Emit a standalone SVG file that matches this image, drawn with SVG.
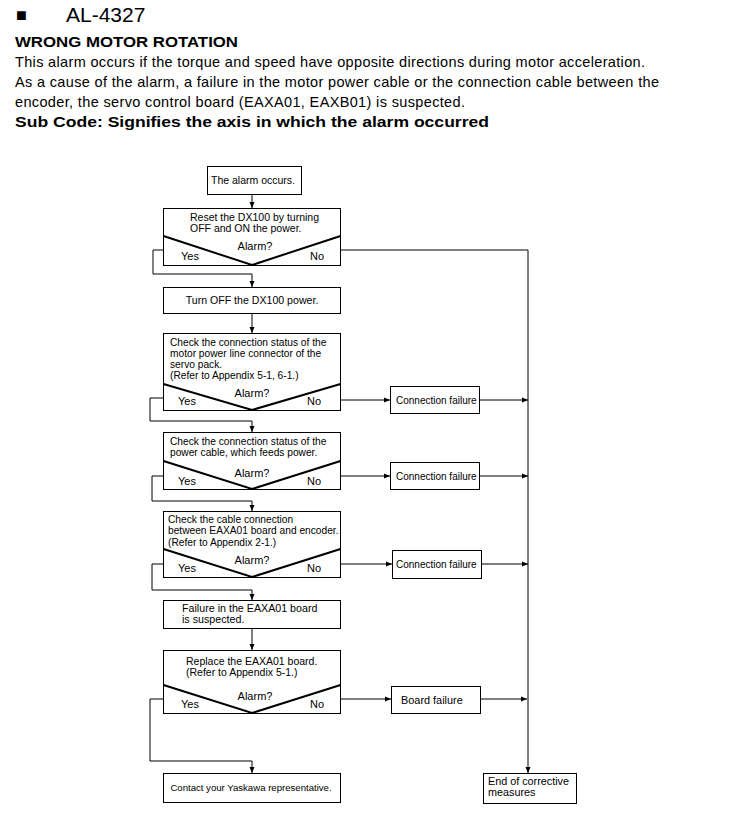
<svg xmlns="http://www.w3.org/2000/svg" width="731" height="835" viewBox="0 0 731 835">
<style>
text{font-family:"Liberation Sans",Arial,sans-serif;fill:#000}
.h{font-size:14.5px}
.b{font-weight:bold;font-size:15px}
.t{font-size:10.5px}
.s{font-size:10.2px}
.box{fill:#fff;stroke:#000;stroke-width:1}
.v{fill:none;stroke:#000;stroke-width:2}
.c{fill:none;stroke:#000;stroke-width:1}
.a{marker-end:url(#ah)}
</style>
<defs>
<marker id="ah" markerUnits="userSpaceOnUse" markerWidth="6" markerHeight="6" refX="6" refY="3" orient="auto">
<path d="M0,0.5 L6,3 L0,5.5 z" fill="#000"/>
</marker>
</defs>
<rect width="731" height="835" fill="#fff"/>
<g id="header">
<text x="16" y="21" style="font-size:18px">■</text>
<text x="66" y="22" style="font-size:21px">AL-4327</text>
<text x="15" y="47" class="b" textLength="223" lengthAdjust="spacingAndGlyphs">WRONG MOTOR ROTATION</text>
<text x="15" y="67" class="h" textLength="630">This alarm occurs if the torque and speed have opposite directions during motor acceleration.</text>
<text x="15" y="87" class="h" textLength="644">As a cause of the alarm, a failure in the motor power cable or the connection cable between the</text>
<text x="15" y="107" class="h" textLength="450">encoder, the servo control board (EAXA01, EAXB01) is suspected.</text>
<text x="15" y="127" class="b" textLength="474" lengthAdjust="spacingAndGlyphs">Sub Code: Signifies the axis in which the alarm occurred</text>
</g>
<g id="connectors">
<path class="c a" d="M252,194 V208"/>
<path class="c a" d="M163,250 H153 V274 H252 V287"/>
<path class="c a" d="M340,250 H528 V773"/>
<path class="c a" d="M252,314 V333"/>
<path class="c a" d="M163,398 H150 V421 H252 V432"/>
<path class="c a" d="M340,400 H390"/>
<path class="c a" d="M480,400 H528"/>
<path class="c a" d="M163,476 H152 V501 H252 V511"/>
<path class="c a" d="M340,476 H390"/>
<path class="c a" d="M480,476 H528"/>
<path class="c a" d="M163,564 H152 V590 H252 V600"/>
<path class="c a" d="M340,564 H392"/>
<path class="c a" d="M481,564 H528"/>
<path class="c a" d="M252,628 V650"/>
<path class="c a" d="M163,699 H150 V761 H252 V773"/>
<path class="c a" d="M340,699 H391"/>
<path class="c a" d="M480,699 H527"/>
</g>
<g id="n1">
<rect class="box" x="207.5" y="166.5" width="94" height="28"/>
<text x="253" y="184" class="t" text-anchor="middle">The alarm occurs.</text>
</g>
<g id="n2">
<rect class="box" x="163.5" y="208.5" width="177" height="57"/>
<path class="v" d="M163.5,236 L252,265 L340.5,236"/>
<text x="190" y="221" class="t">Reset the DX100 by turning</text>
<text x="190" y="232" class="t">OFF and ON the power.</text>
<text x="255" y="250" class="t" text-anchor="middle" style="font-size:11px">Alarm?</text>
<text x="181" y="260" class="t" style="font-size:11px">Yes</text>
<text x="310" y="260" class="t" style="font-size:11px">No</text>
</g>
<g id="n3">
<rect class="box" x="163.5" y="287.5" width="177" height="26"/>
<text x="252" y="304" class="t" text-anchor="middle" style="font-size:10.6px">Turn OFF the DX100 power.</text>
</g>
<g id="n4">
<rect class="box" x="163.5" y="333.5" width="177" height="77"/>
<path class="v" d="M163.5,384 L252,410 L340.5,384"/>
<text x="170" y="346" class="s">Check the connection status of the</text>
<text x="170" y="357" class="s">motor power line connector of the</text>
<text x="170" y="368" class="s">servo pack.</text>
<text x="170" y="379" class="s">(Refer to Appendix 5-1, 6-1.)</text>
<text x="252" y="397" class="t" text-anchor="middle" style="font-size:11px">Alarm?</text>
<text x="178" y="405" class="t" style="font-size:11px">Yes</text>
<text x="307" y="405" class="t" style="font-size:11px">No</text>
</g>
<g id="n5">
<rect class="box" x="390.5" y="386.5" width="89" height="27"/>
<text x="396" y="404" class="t" style="font-size:10px">Connection failure</text>
</g>
<g id="n6">
<rect class="box" x="163.5" y="432.5" width="177" height="57"/>
<path class="v" d="M163.5,461 L252,489 L340.5,461"/>
<text x="170" y="445" class="s">Check the connection status of the</text>
<text x="170" y="456" class="s">power cable, which feeds power.</text>
<text x="252" y="477" class="t" text-anchor="middle" style="font-size:11px">Alarm?</text>
<text x="178" y="485" class="t" style="font-size:11px">Yes</text>
<text x="307" y="485" class="t" style="font-size:11px">No</text>
</g>
<g id="n7">
<rect class="box" x="390.5" y="462.5" width="89" height="27"/>
<text x="396" y="480" class="t" style="font-size:10px">Connection failure</text>
</g>
<g id="n8">
<rect class="box" x="163.5" y="511.5" width="177" height="66"/>
<path class="v" d="M163.5,549 L252,577 L340.5,549"/>
<text x="168" y="523" class="s">Check the cable connection</text>
<text x="168" y="534" class="s">between EAXA01 board and encoder.</text>
<text x="168" y="546" class="s">(Refer to Appendix 2-1.)</text>
<text x="252" y="564" class="t" text-anchor="middle" style="font-size:11px">Alarm?</text>
<text x="178" y="572" class="t" style="font-size:11px">Yes</text>
<text x="307" y="572" class="t" style="font-size:11px">No</text>
</g>
<g id="n9">
<rect class="box" x="392.5" y="550.5" width="89" height="28"/>
<text x="396" y="568" class="t" style="font-size:10px">Connection failure</text>
</g>
<g id="n10">
<rect class="box" x="163.5" y="600.5" width="177" height="28"/>
<text x="182" y="612" class="t" style="font-size:10.7px">Failure in the EAXA01 board</text>
<text x="182" y="623" class="t" style="font-size:10.7px">is suspected.</text>
</g>
<g id="n11">
<rect class="box" x="163.5" y="650.5" width="177" height="63"/>
<path class="v" d="M163.5,685 L252,713 L340.5,685"/>
<text x="186" y="665" class="t">Replace the EAXA01 board.</text>
<text x="186" y="676" class="t">(Refer to Appendix 5-1.)</text>
<text x="255" y="700" class="t" text-anchor="middle" style="font-size:11px">Alarm?</text>
<text x="181" y="708" class="t" style="font-size:11px">Yes</text>
<text x="310" y="708" class="t" style="font-size:11px">No</text>
</g>
<g id="n12">
<rect class="box" x="391.5" y="686.5" width="89" height="27"/>
<text x="401" y="704" class="t" style="font-size:10.9px">Board failure</text>
</g>
<g id="n13">
<rect class="box" x="163.5" y="773.5" width="177" height="29"/>
<text x="251" y="791" class="t" text-anchor="middle" style="font-size:9.6px">Contact your Yaskawa representative.</text>
</g>
<g id="n14">
<rect class="box" x="483.5" y="773.5" width="93" height="30"/>
<text x="488" y="785" class="t" style="font-size:10.8px">End of corrective</text>
<text x="488" y="796" class="t" style="font-size:10.8px">measures</text>
</g>
</svg>
